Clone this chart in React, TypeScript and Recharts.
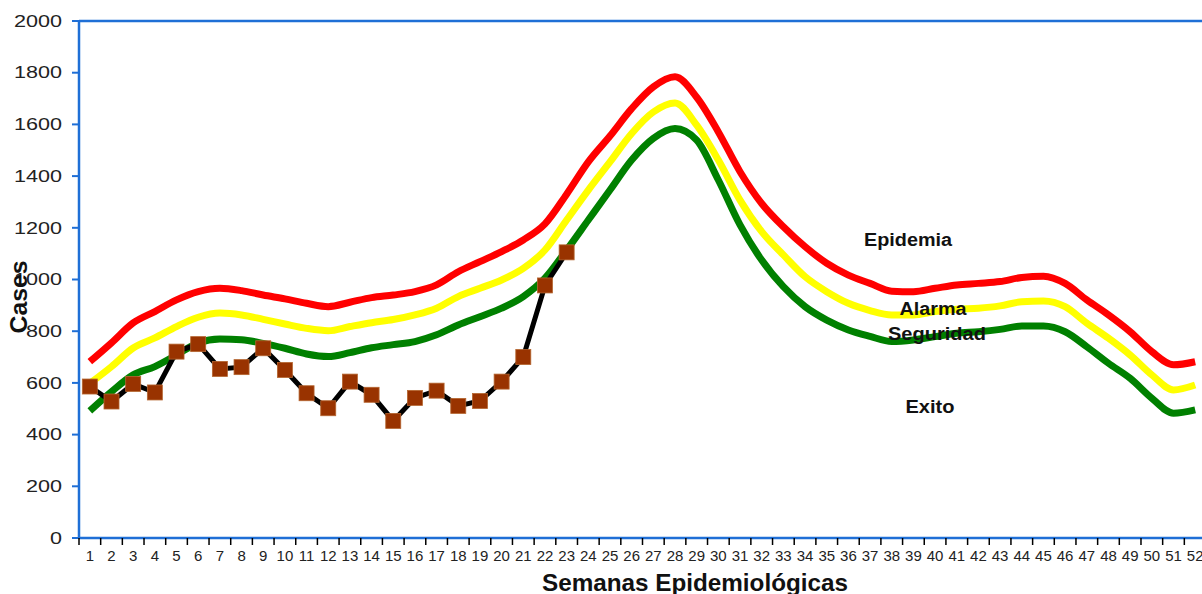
import { LineChart, Line, XAxis, YAxis, ReferenceLine } from 'recharts';

const WEEKS = [
    '1', '2', '3', '4', '5', '6', '7', '8', '9', '10', '11', '12', '13',
    '14', '15', '16', '17', '18', '19', '20', '21', '22', '23', '24', '25', '26',
    '27', '28', '29', '30', '31', '32', '33', '34', '35', '36', '37', '38', '39',
    '40', '41', '42', '43', '44', '45', '46', '47', '48', '49', '50', '51', '52',
];

// Epidemia (upper) threshold
const EPIDEMIA = [
    682, 755, 832, 876, 921, 953, 966, 957, 940, 925, 908, 895, 912,
    930, 940, 953, 979, 1030, 1069, 1108, 1153, 1215, 1330, 1455, 1555, 1661,
    1745, 1784, 1705, 1571, 1417, 1294, 1204, 1127, 1063, 1017, 985, 955, 953,
    966, 979, 985, 992, 1008, 1013, 985, 921, 863, 798, 721, 670, 682,
];

// Alarma threshold
const ALARMA = [
    598, 663, 735, 774, 818, 854, 870, 863, 846, 828, 811, 802, 818,
    833, 845, 863, 889, 934, 966, 998, 1043, 1114, 1230, 1346, 1455, 1565,
    1648, 1683, 1597, 1462, 1307, 1185, 1095, 1011, 953, 908, 880, 863, 863,
    876, 885, 889, 898, 914, 917, 895, 831, 773, 708, 631, 573, 592,
];

// Seguridad threshold
const SEGURIDAD = [
    492, 566, 631, 663, 708, 755, 770, 767, 753, 734, 712, 702, 717,
    736, 748, 760, 786, 824, 856, 889, 934, 1005, 1114, 1230, 1346, 1462,
    1546, 1584, 1539, 1385, 1211, 1075, 972, 895, 843, 805, 780, 760, 766,
    779, 792, 798, 807, 820, 820, 798, 740, 676, 618, 541, 483, 496,
];

// observed cases, weeks 1-23
const CASES = [
    586, 528, 596, 563, 721, 750, 654, 661, 734, 650, 560, 502, 605,
    554, 453, 542, 570, 511, 530, 605, 700, 977, 1105,
];

const Y_TICKS = [0, 200, 400, 600, 800, 1000, 1200, 1400, 1600, 1800, 2000];

const BLUE = '#1f6fd6';
const CHART_W = 1206;
const CHART_H = 594;
const Y_AXIS_W = 79;
const HALF_BAND = (CHART_W - Y_AXIS_W) / WEEKS.length / 2;

const data = WEEKS.map((w, i) => ({
    week: w,
    epidemia: EPIDEMIA[i],
    alarma: ALARMA[i],
    seguridad: SEGURIDAD[i],
    cases: i < CASES.length ? CASES[i] : null,
}));

const WeekTick = ({ x, y, payload }: { x?: number; y?: number; payload?: { value: string } }) => (
    <g>
        <line x1={x! - HALF_BAND} x2={x! - HALF_BAND} y1={y!} y2={y! + 7} stroke="#000" strokeWidth={1.5} />
        <text x={x} y={y! + 23} textAnchor="middle" fontSize={15} fill="#222" fontFamily="Arial, 'Liberation Sans', sans-serif">
            {payload!.value}
        </text>
    </g>
);

const CasesTick = ({ x, y, payload }: { x?: number; y?: number; payload?: { value: number } }) => {
    const label = String(payload!.value);
    return (
        <text
            x={x}
            y={y}
            dy="0.36em"
            textAnchor="end"
            fontSize={16}
            fill="#222"
            fontFamily="Arial, 'Liberation Sans', sans-serif"
            textLength={12 * label.length}
            lengthAdjust="spacingAndGlyphs"
        >
            {label}
        </text>
    );
};

const SquareDot = ({ cx, cy }: { cx?: number; cy?: number }) => {
    if (cx == null || cy == null) return null;
    return <rect x={cx - 7.5} y={cy - 7.5} width={15} height={15} fill="#993300" stroke="#b5652f" strokeWidth={0.8} />;
};

const zones = [
    { text: 'Epidemia', x: 908, y: 246, len: 88 },
    { text: 'Alarma', x: 933, y: 315, len: 67 },
    { text: 'Seguridad', x: 937, y: 340, len: 98 },
    { text: 'Exito', x: 930, y: 413, len: 49 },
];

export default function App() {
    const font = "Arial, 'Liberation Sans', sans-serif";
    return (
        <div style={{ position: 'absolute', left: 0, top: 0, width: 1202, height: CHART_H, overflow: 'hidden', background: '#fff' }}>
            <LineChart width={CHART_W} height={CHART_H} data={data} margin={{ top: 21, right: 0, left: 0, bottom: 0 }}>
                <XAxis
                    dataKey="week"
                    interval={0}
                    height={56}
                    padding={{ left: HALF_BAND, right: HALF_BAND }}
                    tickSize={0}
                    tickMargin={0}
                    tickLine={false}
                    axisLine={{ stroke: BLUE, strokeWidth: 2.5 }}
                    tick={<WeekTick />}
                />
                <YAxis
                    width={Y_AXIS_W}
                    domain={[0, 2000]}
                    ticks={Y_TICKS}
                    interval={0}
                    tickSize={7}
                    tickMargin={10}
                    axisLine={{ stroke: BLUE, strokeWidth: 2.5 }}
                    tickLine={{ stroke: BLUE, strokeWidth: 2 }}
                    tick={<CasesTick />}
                />
                <ReferenceLine y={2000} stroke={BLUE} strokeWidth={2.5} />
                <Line type="monotone" dataKey="epidemia" stroke="#ff0000" strokeWidth={7} dot={false} isAnimationActive={false} />
                <Line type="monotone" dataKey="alarma" stroke="#ffff00" strokeWidth={7} dot={false} isAnimationActive={false} />
                <Line type="monotone" dataKey="seguridad" stroke="#008000" strokeWidth={7} dot={false} isAnimationActive={false} />
                <Line
                    type="linear"
                    dataKey="cases"
                    stroke="#000"
                    strokeWidth={5}
                    dot={<SquareDot />}
                    activeDot={false}
                    isAnimationActive={false}
                />
            </LineChart>
            <svg width={1202} height={CHART_H} style={{ position: 'absolute', left: 0, top: 0, pointerEvents: 'none' }}>
                {zones.map((z) => (
                    <text
                        key={z.text}
                        x={z.x}
                        y={z.y}
                        textAnchor="middle"
                        fontSize={18}
                        fontWeight="bold"
                        fill="#111"
                        fontFamily={font}
                        textLength={z.len}
                        lengthAdjust="spacingAndGlyphs"
                    >
                        {z.text}
                    </text>
                ))}
                <text
                    x={0}
                    y={0}
                    transform="translate(27, 297) rotate(-90)"
                    textAnchor="middle"
                    fontSize={23}
                    fontWeight="bold"
                    fill="#111"
                    fontFamily={font}
                    textLength={73}
                    lengthAdjust="spacingAndGlyphs"
                >
                    Cases
                </text>
                <text
                    x={695}
                    y={591}
                    textAnchor="middle"
                    fontSize={24}
                    fontWeight="bold"
                    fill="#111"
                    fontFamily={font}
                    textLength={306}
                    lengthAdjust="spacingAndGlyphs"
                >
                    Semanas Epidemiológicas
                </text>
            </svg>
        </div>
    );
}
